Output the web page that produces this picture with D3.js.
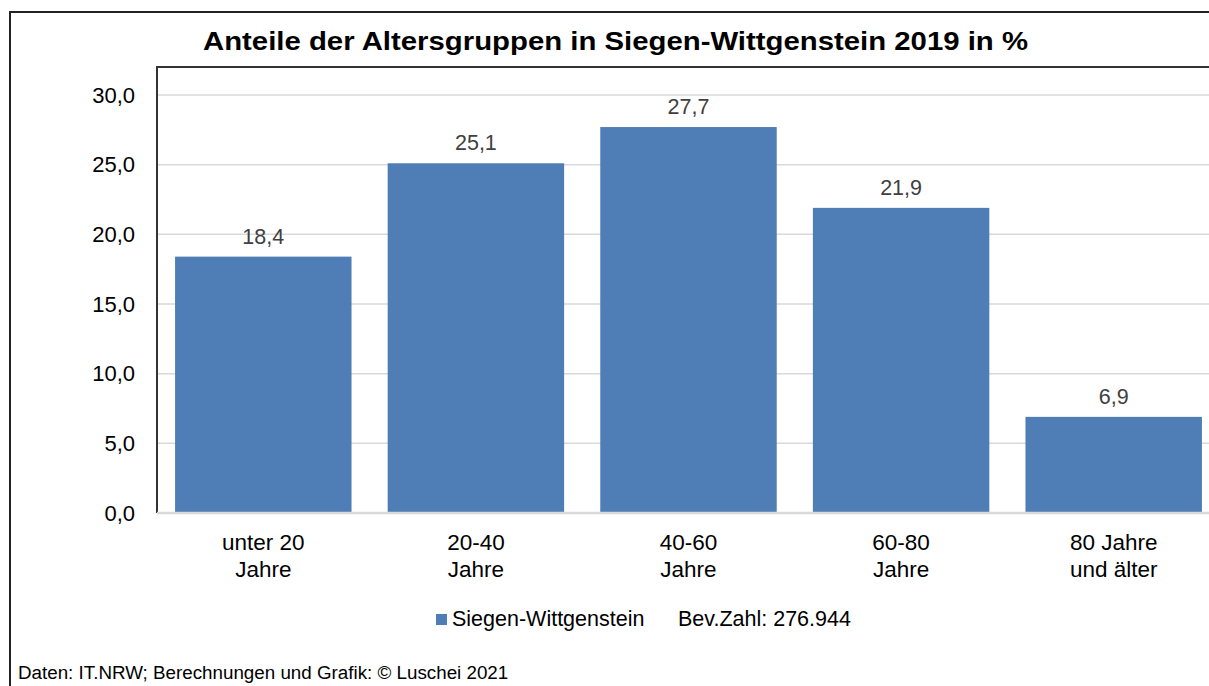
<!DOCTYPE html>
<html>
<head>
<meta charset="utf-8">
<script src="https://cdn.jsdelivr.net/npm/d3@7"></script>
<style>
  body { margin: 0; background: #fff; }
  text { font-family: 'Liberation Sans', Arial, sans-serif; }
</style>
</head>
<body>
<div id="app"></div>
<script>
const categories = [['unter 20', 'Jahre'], ['20-40', 'Jahre'], ['40-60', 'Jahre'], ['60-80', 'Jahre'], ['80 Jahre', 'und älter']];
const values = [18.4, 25.1, 27.7, 21.9, 6.9];
const yTicks = [0, 5, 10, 15, 20, 25, 30];
const seriesName = 'Siegen-Wittgenstein';
const popNote = 'Bev.Zahl: 276.944';
const title = 'Anteile der Altersgruppen in Siegen-Wittgenstein 2019 in %';
const source = 'Daten: IT.NRW; Berechnungen und Grafik: © Luschei 2021';

const W = 1209, H = 686;
const barColor = '#4f7db5';
const fmt = v => d3.format('.1f')(v).replace('.', ',');

const svg = d3.select('#app').append('svg')
  .attr('width', W)
  .attr('height', H);

// outer frame
svg.append('rect')
  .attr('x', 10).attr('y', 12)
  .attr('width', W + 20).attr('height', H + 20)
  .attr('fill', '#fff')
  .attr('stroke', '#222')
  .attr('stroke-width', 2);

const plot = { left: 157, top: 67, right: 1220, bottom: 513 };

const x = d3.scaleBand()
  .domain(d3.range(values.length))
  .range([plot.left, plot.right])
  .paddingInner(0.17)
  .paddingOuter(0.085);

const y = d3.scaleLinear()
  .domain([0, 30])
  .range([plot.bottom, 95]);

// gridlines
svg.append('g')
  .selectAll('line')
  .data(yTicks.filter(d => d > 0))
  .enter().append('line')
    .attr('x1', plot.left).attr('x2', W)
    .attr('y1', d => y(d)).attr('y2', d => y(d))
    .attr('stroke', '#d9d9d9')
    .attr('stroke-width', 1.5);

// plot frame (top + left)
svg.append('path')
  .attr('d', `M${plot.left},${plot.bottom}V${plot.top}H${W}`)
  .attr('fill', 'none')
  .attr('stroke', '#333')
  .attr('stroke-width', 2);

// bars
svg.append('g')
  .selectAll('rect')
  .data(values)
  .enter().append('rect')
    .attr('x', (d, i) => x(i))
    .attr('y', d => y(d))
    .attr('width', x.bandwidth())
    .attr('height', d => y(0) - y(d))
    .attr('fill', barColor);

// value labels
svg.append('g')
  .selectAll('text')
  .data(values)
  .enter().append('text')
    .attr('x', (d, i) => x(i) + x.bandwidth() / 2)
    .attr('y', d => y(d) - 13)
    .attr('text-anchor', 'middle')
    .attr('font-size', 21.5)
    .attr('fill', '#404040')
    .text(fmt);

// x axis line
svg.append('line')
  .attr('x1', plot.left).attr('x2', W)
  .attr('y1', y(0)).attr('y2', y(0))
  .attr('stroke', '#d9d9d9')
  .attr('stroke-width', 2.5);

// y axis labels
const yAxis = svg.append('g')
  .attr('transform', `translate(${plot.left},0)`)
  .call(d3.axisLeft(y).tickValues(yTicks).tickFormat(fmt).tickSize(0).tickPadding(22));
yAxis.select('.domain').remove();
yAxis.selectAll('text')
  .attr('font-size', 22)
  .attr('font-family', "'Liberation Sans', Arial, sans-serif")
  .attr('fill', '#000');

// x labels
const xl = svg.append('g')
  .selectAll('text')
  .data(categories)
  .enter().append('text')
    .attr('x', (d, i) => x(i) + x.bandwidth() / 2)
    .attr('y', 550)
    .attr('text-anchor', 'middle')
    .attr('font-size', 22.5)
    .attr('fill', '#000');
xl.selectAll('tspan')
  .data(d => d)
  .enter().append('tspan')
    .attr('x', function() { return d3.select(this.parentNode).attr('x'); })
    .attr('dy', (d, i) => i ? 27 : 0)
    .text(d => d);

// title
svg.append('text')
  .attr('x', 203)
  .attr('y', 50)
  .attr('font-size', 26)
  .attr('font-weight', 'bold')
  .attr('fill', '#000')
  .attr('textLength', 825)
  .attr('lengthAdjust', 'spacingAndGlyphs')
  .text(title);

// legend
svg.append('rect')
  .attr('x', 436).attr('y', 614)
  .attr('width', 11).attr('height', 11)
  .attr('fill', barColor);
svg.append('text')
  .attr('x', 452).attr('y', 626)
  .attr('font-size', 21.5)
  .text(seriesName);
svg.append('text')
  .attr('x', 678).attr('y', 626)
  .attr('font-size', 21.5)
  .text(popNote);

// source
svg.append('text')
  .attr('x', 18).attr('y', 679)
  .attr('font-size', 18.8)
  .text(source);
</script>
</body>
</html>
